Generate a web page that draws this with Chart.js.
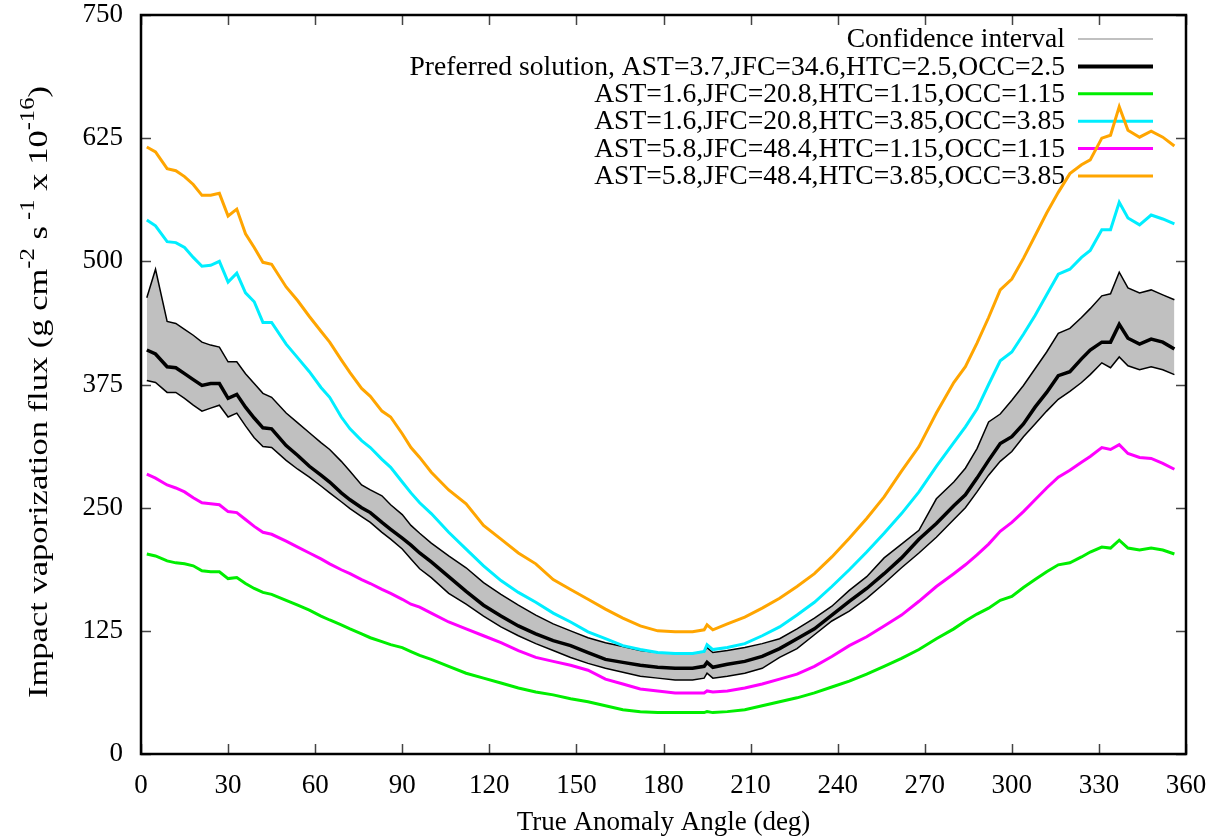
<!DOCTYPE html>
<html>
<head>
<meta charset="utf-8">
<title>Impact vaporization flux vs true anomaly</title>
<script src="https://cdn.jsdelivr.net/npm/chart.js@4.4.1/dist/chart.umd.min.js"></script>
<style>
  html, body { margin: 0; padding: 0; background: #fff; }
  #wrap { width: 1217px; height: 839px; position: relative; }
</style>
</head>
<body>
<div id="wrap"><canvas id="flux"></canvas></div>
<script>
'use strict';

// ── Data: true anomaly angle (deg) → flux (g cm^-2 s^-1 x 10^-16) ──
const ANGLES = [
  2, 5, 9, 12, 15, 18, 21, 24, 27, 30,
  33, 36, 39, 42, 45, 50, 54, 58, 62, 65,
  69, 72, 76, 79, 83, 86, 90, 93, 96, 100,
  106, 112, 118, 124, 130, 136, 142, 148, 154, 160,
  166, 172, 178, 184, 190, 194, 195, 197, 202, 208,
  214, 220, 226, 232, 238, 244, 250, 256, 262, 268,
  274, 280, 284, 288, 292, 296, 300, 304, 308, 312,
  316, 320, 324, 327, 331, 334, 337, 340, 344, 348,
  352, 356,
];

const CI_UPPER = [
  463, 492, 439, 437, 431, 425, 418, 415, 413, 398,
  398, 386, 376, 366, 362, 346, 336, 326, 316, 309,
  297, 287, 273, 268, 262, 253, 243, 232, 224, 214,
  201, 189, 174, 162, 151, 141, 132, 125, 118, 113,
  109, 105, 103, 102, 102, 104, 108, 103, 105, 108,
  112, 117, 127, 138, 150, 166, 180, 199, 213, 227,
  259, 276, 290, 310, 337, 345, 359, 374, 391, 408,
  427, 432, 443, 452, 465, 467, 489, 473, 468, 471,
  466, 461,
];

const CI_LOWER = [
  379, 377, 367, 367, 361, 354, 348, 351, 354, 342,
  346, 333, 321, 312, 311, 298, 289, 281, 272, 265,
  256, 249, 241, 235, 225, 218, 208, 198, 188, 179,
  163, 152, 140, 129, 120, 112, 105, 98, 92, 87,
  83, 79, 77, 75, 75, 77, 82, 77, 79, 82,
  87, 98, 107, 121, 135, 145, 158, 173, 189, 204,
  220, 238, 250, 266, 283, 297, 307, 322, 335, 348,
  360, 368, 377, 385, 397, 392, 403, 394, 390, 393,
  390, 385,
];

const PREFERRED = [
  410, 406, 393, 392, 386, 380, 374, 376, 376, 361,
  365, 352, 341, 331, 330, 313, 303, 292, 283, 276,
  265, 258, 250, 245, 235, 228, 219, 212, 204, 195,
  180, 165, 151, 140, 130, 122, 115, 110, 103, 96,
  93, 90, 88, 87, 87, 89, 93, 88, 91, 94,
  99, 107, 117, 127, 141, 155, 168, 183, 199, 218,
  234, 252, 263, 280, 298, 315, 322, 335, 352, 367,
  384, 388, 401, 410, 418, 418, 436, 422, 416, 421,
  418, 411,
];

// AST=1.6,JFC=20.8,HTC=1.15,OCC=1.15
const LOW_AST_LOW_C = [
  203, 201, 196, 194, 193, 191, 186, 185, 185, 178,
  179, 173, 168, 164, 162, 156, 151, 146, 140, 136,
  131, 127, 122, 118, 114, 111, 108, 104, 100, 96,
  89, 82, 77, 72, 67, 63, 60, 56, 53, 49,
  45, 43, 42, 42, 42, 42, 43, 42, 43, 45,
  49, 53, 57, 62, 68, 74, 81, 89, 97, 106,
  117, 127, 135, 142, 148, 156, 160, 169, 177, 185,
  192, 194, 200, 205, 210, 209, 217, 209, 207, 209,
  207, 203,
];

// AST=1.6,JFC=20.8,HTC=3.85,OCC=3.85
const LOW_AST_HIGH_C = [
  542, 536, 520, 519, 514, 504, 495, 496, 500, 479,
  488, 468, 459, 438, 438, 416, 402, 388, 372, 362,
  342, 330, 318, 311, 299, 291, 276, 265, 255, 244,
  225, 208, 191, 176, 164, 154, 143, 134, 124, 117,
  110, 106, 103, 102, 102, 104, 111, 106, 108, 112,
  120, 129, 141, 154, 170, 187, 205, 224, 244, 266,
  292, 316, 332, 350, 375, 399, 408, 426, 445, 466,
  487, 492, 504, 511, 532, 532, 560, 544, 537, 547,
  543, 538,
];

// AST=5.8,JFC=48.4,HTC=1.15,OCC=1.15
const HIGH_AST_LOW_C = [
  284, 280, 273, 270, 266, 260, 255, 254, 253, 246,
  245, 238, 231, 225, 223, 216, 210, 204, 198, 193,
  187, 183, 177, 173, 167, 163, 157, 152, 149, 143,
  134, 127, 120, 113, 105, 98, 94, 90, 85, 76,
  71, 66, 64, 62, 62, 62, 64, 63, 64, 67,
  71, 76, 81, 89, 99, 110, 119, 130, 141, 155,
  170, 183, 192, 202, 213, 226, 235, 246, 258, 270,
  281, 288, 296, 302, 311, 309, 314, 305, 301, 300,
  295, 289,
];

// AST=5.8,JFC=48.4,HTC=3.85,OCC=3.85
const HIGH_AST_HIGH_C = [
  616, 611, 594, 592, 586, 578, 567, 567, 569, 546,
  553, 528, 514, 499, 497, 474, 460, 444, 429, 418,
  400, 387, 371, 363, 348, 342, 325, 311, 301, 286,
  268, 254, 232, 218, 204, 193, 177, 167, 157, 147,
  138, 130, 125, 124, 124, 126, 131, 126, 132, 139,
  148, 158, 170, 183, 200, 219, 239, 261, 287, 312,
  346, 377, 393, 417, 443, 471, 482, 503, 526, 549,
  570, 589, 598, 603, 625, 628, 657, 633, 626, 632,
  626, 617,
];

const X_TICKS = [0, 30, 60, 90, 120, 150, 180, 210, 240, 270, 300, 330, 360];
const Y_TICKS = [0, 125, 250, 375, 500, 625, 750];

const SERIF = "'Liberation Serif', 'Times New Roman', Times, serif";

// ── Helpers ────────────────────────────────────
const pts = arr => ANGLES.map((a, i) => ({ x: a, y: arr[i] }));

function line(label, data, color, width, order) {
  return {
    label,
    data: pts(data),
    borderColor: color,
    borderWidth: width,
    pointRadius: 0,
    tension: 0,
    fill: false,
    order,
  };
}

// ── Legend rows (gnuplot style: text right, sample on the right) ──
const LEGEND = [
  { label: 'Confidence interval', color: '#c0c0c0', width: 2 },
  { label: 'Preferred solution, AST=3.7,JFC=34.6,HTC=2.5,OCC=2.5', color: '#000000', width: 4 },
  { label: 'AST=1.6,JFC=20.8,HTC=1.15,OCC=1.15', color: '#00ee00', width: 3 },
  { label: 'AST=1.6,JFC=20.8,HTC=3.85,OCC=3.85', color: '#00eeff', width: 3 },
  { label: 'AST=5.8,JFC=48.4,HTC=1.15,OCC=1.15', color: '#ff00ff', width: 3 },
  { label: 'AST=5.8,JFC=48.4,HTC=3.85,OCC=3.85', color: '#ffa500', width: 3 },
];

const legendPlugin = {
  id: 'keyBox',
  beforeDatasetsDraw(chart) {
    const { ctx, chartArea: a } = chart;
    ctx.save();
    ctx.font = `27.6px ${SERIF}`;
    ctx.textAlign = 'right';
    ctx.textBaseline = 'middle';
    LEGEND.forEach((item, i) => {
      const y = a.top + 24 + i * 27.4;
      ctx.fillStyle = '#000';
      ctx.fillText(item.label, a.right - 121, y + 1);
      ctx.strokeStyle = item.color;
      ctx.lineWidth = item.width;
      ctx.beginPath();
      ctx.moveTo(a.right - 108, y);
      ctx.lineTo(a.right - 33, y);
      ctx.stroke();
    });
    ctx.restore();
  },
};

// ── Frame, inward ticks and axis titles ────────
const framePlugin = {
  id: 'frame',
  afterDatasetsDraw(chart) {
    const { ctx, chartArea: a, scales: { x, y } } = chart;
    const TL = 10;
    ctx.save();
    ctx.strokeStyle = '#444';
    ctx.lineWidth = 1.5;
    ctx.beginPath();
    X_TICKS.forEach(v => {
      const px = Math.round(x.getPixelForValue(v)) + 0.5;
      ctx.moveTo(px, a.bottom); ctx.lineTo(px, a.bottom - TL);
      ctx.moveTo(px, a.top);    ctx.lineTo(px, a.top + TL);
    });
    Y_TICKS.forEach(v => {
      const py = Math.round(y.getPixelForValue(v)) + 0.5;
      ctx.moveTo(a.left, py);  ctx.lineTo(a.left + TL, py);
      ctx.moveTo(a.right, py); ctx.lineTo(a.right - TL, py);
    });
    ctx.stroke();

    ctx.strokeStyle = '#000';
    ctx.lineWidth = 2.5;
    ctx.strokeRect(a.left, a.top, a.right - a.left, a.bottom - a.top);

    // x title
    ctx.fillStyle = '#000';
    ctx.font = `27px ${SERIF}`;
    ctx.textAlign = 'center';
    ctx.textBaseline = 'alphabetic';
    ctx.fillText('True Anomaly Angle (deg)', (a.left + a.right) / 2, 830);

    // y title with superscripts, rotated and stretched along its length
    const parts = [
      ['Impact vaporization flux (g cm', 0],
      ['-2', 1],
      [' s', 0],
      [' -1', 1],
      [' x 10', 0],
      ['-16', 1],
      [')', 0],
    ];
    const big = `28px ${SERIF}`, small = `20px ${SERIF}`;
    let total = 0;
    parts.forEach(([t, sup]) => { ctx.font = sup ? small : big; total += ctx.measureText(t).width; });
    const span = 612;
    ctx.translate(47, 392);
    ctx.rotate(-Math.PI / 2);
    ctx.scale(span / total, 1);
    ctx.textAlign = 'left';
    let cx = -total / 2;
    parts.forEach(([t, sup]) => {
      ctx.font = sup ? small : big;
      ctx.fillText(t, cx, sup ? -13 : 0);
      cx += ctx.measureText(t).width;
    });
    ctx.restore();
  },
};

// ── Chart ──────────────────────────────────────
const datasets = [
  Object.assign(line('Confidence interval upper', CI_UPPER, '#000', 1.5, 8),
    { fill: { target: 1 }, backgroundColor: '#c0c0c0' }),
  line('Confidence interval lower', CI_LOWER, '#000', 1.5, 7),
  line(LEGEND[1].label, PREFERRED, '#000', 3.5, 6),
  line(LEGEND[2].label, LOW_AST_LOW_C, LEGEND[2].color, 3, 5),
  line(LEGEND[3].label, LOW_AST_HIGH_C, LEGEND[3].color, 3, 4),
  line(LEGEND[4].label, HIGH_AST_LOW_C, LEGEND[4].color, 3, 3),
  line(LEGEND[5].label, HIGH_AST_HIGH_C, LEGEND[5].color, 3, 2),
];

new Chart(document.getElementById('flux'), {
  type: 'line',
  data: { datasets },
  options: {
    responsive: true,
    maintainAspectRatio: false,
    animation: false,
    events: [],
    layout: { padding: { top: 15, right: 31, bottom: 0, left: 0 } },
    plugins: {
      legend: { display: false },
      tooltip: { enabled: false },
      filler: { propagate: false },
    },
    scales: {
      x: {
        type: 'linear',
        min: 0,
        max: 360,
        afterBuildTicks: s => { s.ticks = X_TICKS.map(v => ({ value: v })); },
        afterFit: s => { s.height = 85; s.paddingLeft = 0; s.paddingRight = 0; },
        grid: { display: false, drawTicks: false },
        border: { display: false },
        ticks: { font: { family: SERIF, size: 27 }, color: '#000', padding: 16, maxRotation: 0, autoSkip: false },
      },
      y: {
        min: 0,
        max: 750,
        afterBuildTicks: s => { s.ticks = Y_TICKS.map(v => ({ value: v })); },
        afterFit: s => { s.width = 141; s.paddingTop = 0; s.paddingBottom = 0; },
        grid: { display: false, drawTicks: false },
        border: { display: false },
        ticks: { font: { family: SERIF, size: 27 }, color: '#000', padding: 18 },
      },
    },
  },
  plugins: [legendPlugin, framePlugin],
});
</script>
</body>
</html>
